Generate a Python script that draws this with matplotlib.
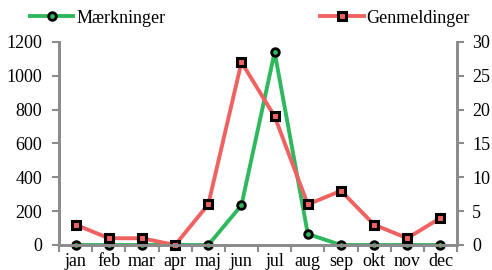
import matplotlib
matplotlib.use("Agg")
import matplotlib.pyplot as plt
from matplotlib.ticker import FixedLocator, NullFormatter

plt.rcParams['font.family'] = ['Liberation Serif', 'DejaVu Serif']

months = ["jan", "feb", "mar", "apr", "maj", "jun", "jul", "aug", "sep", "okt", "nov", "dec"]
maerkninger = [0, 0, 0, 0, 0, 235, 1140, 65, 0, 0, 0, 0]
genmeldinger = [3, 1, 1, 0, 6, 27, 19, 6, 8, 3, 1, 4]

GREEN = "#2fb85e"
RED = "#f06262"
GRAY = "#8c8c8c"
FS = 13

fig = plt.figure(figsize=(4.92, 2.70), dpi=100)
ax = fig.add_axes([0.12, 0.0926, 0.809, 0.752])
ax2 = ax.twinx()

x = list(range(len(months)))
l1, = ax.plot(x, maerkninger, color=GREEN, lw=2.8, marker="o", ms=5.5,
              mfc=GREEN, mec="black", mew=2.0, label="Mærkninger")
l2, = ax2.plot(x, genmeldinger, color=RED, lw=2.8, marker="s", ms=5.5,
               mfc=RED, mec="black", mew=2.2, label="Genmeldinger")

ax.set_xlim(-0.5, 11.5)
ax.set_ylim(0, 1200)
ax2.set_ylim(0, 30)
ax.set_yticks(range(0, 1201, 200))
ax2.set_yticks(range(0, 31, 5))

ax.xaxis.set_major_locator(FixedLocator([i - 0.5 for i in range(13)]))
ax.xaxis.set_major_formatter(NullFormatter())
ax.xaxis.set_minor_locator(FixedLocator(x))
ax.set_xticks(x, months, minor=True)
ax.tick_params(axis="x", which="major", length=5, width=1.5, color=GRAY, direction="out")
ax.tick_params(axis="x", which="minor", length=0, pad=6, labelsize=FS)
ax.tick_params(axis="y", length=5, width=1.5, color=GRAY, labelsize=FS, pad=7)
ax2.tick_params(axis="y", length=5, width=1.5, color=GRAY, labelsize=FS, pad=6)

for a in (ax, ax2):
    a.spines["top"].set_visible(False)
    for s in ("left", "right", "bottom"):
        a.spines[s].set_color(GRAY)
        a.spines[s].set_linewidth(2)
l1.set_clip_on(False)
l2.set_clip_on(False)

fig.legend(handles=[l1], loc="center left", bbox_to_anchor=(0.061, 0.933),
           frameon=False, fontsize=FS, handlelength=2.4, handletextpad=0.15,
           borderaxespad=0, borderpad=0)
fig.legend(handles=[l2], loc="center right", bbox_to_anchor=(0.955, 0.933),
           frameon=False, fontsize=FS, handlelength=2.4, handletextpad=0.15,
           borderaxespad=0, borderpad=0)

fig.savefig("out.png", dpi=100)
